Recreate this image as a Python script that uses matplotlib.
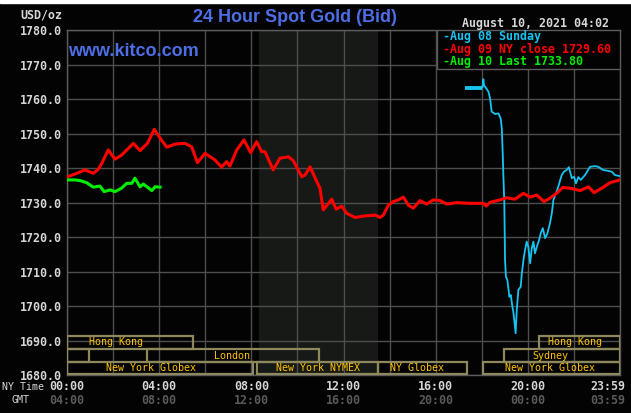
import matplotlib
matplotlib.use("Agg")
import matplotlib.pyplot as plt
from matplotlib.patches import Rectangle
import matplotlib.transforms as mtransforms

# Aug 09 (full NY day), hours since 00:00 NY time
red_h = [0.01, 0.35, 0.78, 1.14, 1.36, 1.51, 1.79, 2.08, 2.37, 2.88, 3.17, 3.49, 3.79,
         4.04, 4.33, 4.69, 5.12, 5.41, 5.66, 5.99, 6.42, 6.71, 6.93, 7.07, 7.37, 7.68,
         7.97, 8.23, 8.45, 8.59, 8.95, 9.24, 9.61, 9.82, 10.19, 10.33, 10.55, 10.84,
         10.98, 11.12, 11.49, 11.68, 11.92, 12.14, 12.5, 12.86, 13.37, 13.59, 13.73,
         13.95, 14.16, 14.38, 14.6, 14.81, 15.03, 15.32, 15.61, 15.9, 16.19, 16.48,
         16.91, 17.49, 18.07, 18.19, 18.36, 18.79, 19.08, 19.44, 19.81, 20.1, 20.39,
         20.7, 20.96, 21.28, 21.51, 21.83, 22.27, 22.63, 22.87, 23.21, 23.57, 24.0]
red_p = [1737.5, 1738.3, 1739.5, 1738.5, 1739.7, 1741.4, 1745.3, 1742.6, 1743.8, 1747.2,
         1745.1, 1747.2, 1751.3, 1748.7, 1746.1, 1747.0, 1747.2, 1746.2, 1741.6, 1744.3,
         1742.4, 1740.3, 1741.9, 1740.6, 1745.3, 1748.2, 1744.5, 1747.7, 1744.8, 1744.8,
         1739.5, 1742.9, 1743.3, 1742.2, 1737.5, 1738.0, 1740.4, 1736.1, 1734.2, 1727.9,
         1731.0, 1728.1, 1729.0, 1726.9, 1725.7, 1726.1, 1726.4, 1725.7, 1726.4, 1729.3,
         1730.3, 1730.8, 1731.6, 1729.3, 1728.4, 1730.6, 1729.6, 1730.8, 1730.6, 1729.6,
         1730.0, 1729.8, 1729.8, 1729.0, 1730.1, 1730.8, 1731.4, 1731.0, 1732.7, 1731.6,
         1732.2, 1730.3, 1731.3, 1732.9, 1734.4, 1734.2, 1733.5, 1734.6, 1732.9, 1734.2,
         1735.8, 1736.6]

# Aug 10 (today so far)
green_h = [0.01, 0.35, 0.56, 0.85, 1.14, 1.43, 1.61, 1.87, 2.08, 2.37, 2.59, 2.81, 2.95,
           3.17, 3.31, 3.49, 3.68, 3.82, 4.04]
green_p = [1736.6, 1736.6, 1736.4, 1735.8, 1734.5, 1734.8, 1733.2, 1733.7, 1733.2, 1734.2,
           1735.6, 1735.6, 1737.1, 1734.6, 1735.4, 1734.5, 1733.5, 1734.6, 1734.5]

# Aug 08 Sunday evening
blue_flat_h = [17.27, 18.03]
blue_flat_p = [1763.4, 1763.4]
blue_h = [18.03, 18.07, 18.1, 18.29, 18.36, 18.43, 18.58, 18.72, 18.82, 18.87, 18.91, 18.94,
          18.98, 19.01, 19.05, 19.11, 19.2, 19.26, 19.33, 19.37, 19.41, 19.47, 19.52,
          19.59, 19.69, 19.74, 19.81, 19.88, 19.95, 20.02, 20.1, 20.17, 20.24, 20.31,
          20.39, 20.49, 20.56, 20.65, 20.75, 20.85, 20.96, 21.04, 21.11, 21.22, 21.32,
          21.47, 21.57, 21.69, 21.78, 21.91, 22.01, 22.09, 22.19, 22.3, 22.48, 22.7,
          22.92, 23.06, 23.26, 23.64, 23.78, 24.0]
blue_p = [1763.4, 1765.8, 1764.1, 1762.2, 1760.3, 1756.4, 1755.7, 1755.9, 1754.5, 1751.6,
          1744.3, 1737.5, 1729.8, 1713.4, 1708.5, 1707.6, 1702.7, 1703.2, 1699.8, 1698.4,
          1696.0, 1692.1, 1698.9, 1704.7, 1705.6, 1709.5, 1713.4, 1716.3, 1718.7, 1717.2,
          1712.4, 1716.7, 1718.7, 1715.3, 1717.2, 1719.2, 1721.1, 1722.6, 1719.7, 1721.1,
          1724.0, 1726.9, 1730.8, 1732.7, 1734.6, 1738.0, 1739.0, 1739.5, 1740.3, 1737.1,
          1737.5, 1735.6, 1737.4, 1736.6, 1738.0, 1740.4, 1740.6, 1740.4, 1739.5, 1739.0,
          1738.0, 1737.7]

ny_ticks = [0, 4, 8, 12, 16, 20, 24]
ny_labels = ["00:00", "04:00", "08:00", "12:00", "16:00", "20:00", "23:59"]
gmt_labels = ["04:00", "08:00", "12:00", "16:00", "20:00", "00:00", "03:59"]

# market sessions: label, start, end, row (0 = bottom), label centre
sessions = [
    ("Hong Kong", 0.0, 5.48, 2, 2.13),
    ("Hong Kong", 20.48, 24.0, 2, 22.05),
    ("", 0.0, 0.97, 1, 0.5),
    ("London", 3.47, 10.95, 1, 7.16),
    ("Sydney", 18.97, 24.0, 1, 20.99),
    ("New York Globex", 0.0, 8.06, 0, 3.65),
    ("New York NYMEX", 8.26, 13.51, 0, 10.9),
    ("NY Globex", 13.51, 17.35, 0, 15.19),
    ("New York Globex", 18.04, 24.0, 0, 20.96),
]
row_bottoms = [1680.2, 1683.8, 1687.6]
row_height = 3.7

BG = "#030303"
GRID = "#4e4e4e"
BLUE = "#16c4f2"
RED = "#ff0000"
GREEN = "#00ee00"
GOLD = "#ffc400"
BOXC = "#8d895c"
LIGHT = "#d6d6d6"
MONO = "DejaVu Sans Mono"

W, H = 631, 413
fig = plt.figure(figsize=(W / 100, H / 100), dpi=100, facecolor=BG)
ax = fig.add_axes([67 / W, 38 / H, 553 / W, 344.7 / H])
ax.set_facecolor(BG)

ax.axvspan(8 + 20 / 60, 13.5, color="#161916", zorder=0, lw=0)

ax.plot(blue_flat_h, blue_flat_p, color=BLUE, lw=2.8, solid_capstyle="butt", zorder=3)
ax.plot(blue_h, blue_p, color=BLUE, lw=1.3, zorder=3)
ax.plot(red_h, red_p, color=RED, lw=2.2, zorder=4)
ax.plot(green_h, green_p, color=GREEN, lw=2.2, zorder=5)

for label, start, end, row, tx in sessions:
    y0 = row_bottoms[row]
    ax.add_patch(Rectangle((start, y0), end - start, row_height, fill=False,
                           edgecolor=BOXC, lw=1.6, zorder=6))
    if label:
        ax.text(tx, y0 + row_height / 2, label, color=GOLD, family=MONO, fontsize=7.2,
                ha="center", va="center", zorder=7)

ax.set_xlim(0, 24)
ax.set_ylim(1680, 1780)
ax.set_xticks(range(0, 25, 2))
ax.set_xticklabels([])
ax.set_yticks(range(1680, 1781, 10))
ax.set_yticklabels([f"{v:.1f}" for v in range(1680, 1781, 10)])
ax.tick_params(length=0, pad=3.6, labelcolor=LIGHT, labelsize=8.4)
for lab in ax.get_yticklabels():
    lab.set_family(MONO)
    lab.set_weight("bold")
ax.grid(True, color=GRID, lw=1)
ax.set_axisbelow(True)
for s in ax.spines.values():
    s.set_color("#5c5c5c")
    s.set_linewidth(1)

# time labels under the plot
trans = mtransforms.blended_transform_factory(ax.transData, ax.transAxes)
for h, ny, gmt in zip(ny_ticks, ny_labels, gmt_labels):
    ha = "center"
    x = h
    if h == 24:
        ha = "right"
        x = 24.22
    ax.text(x, -11 / 344.7, ny, transform=trans, ha=ha, va="center", color=LIGHT,
            family=MONO, weight="bold", fontsize=8.4)
    ax.text(x, -25 / 344.7, gmt, transform=trans, ha=ha, va="center", color="#5a5a5a",
            family=MONO, weight="bold", fontsize=8.4)

fig.text(2 / W, 1 - 387 / H, "NY Time", color=LIGHT, family=MONO, fontsize=7.2,
         ha="left", va="center")
fig.text(11 / W, 1 - 400 / H, "GMT", color=LIGHT, family=MONO, fontsize=7.2,
         ha="left", va="center")
fig.text(62 / W, 1 - 15 / H, "USD/oz", color=LIGHT, family=MONO, fontsize=8.4,
         weight="bold", ha="right", va="center")

fig.text(295 / W, 1 - 18 / H, "24 Hour Spot Gold (Bid)", color="#4d6ee6",
         family="Liberation Sans", fontsize=13, weight="bold", ha="center", va="center")
fig.text(68 / W, 1 - 51 / H, "www.kitco.com", color="#4d6ee6",
         family="Liberation Sans", fontsize=13, weight="bold", ha="left", va="center",
         zorder=10)
fig.text(609 / W, 1 - 23 / H, "August 10, 2021 04:02", color=LIGHT, family=MONO,
         fontsize=8.4, weight="bold", ha="right", va="center")

# legend box
ax.add_patch(Rectangle(((437 - 67) / 553, (375 - 69.3) / 344.7), (620 - 437) / 553,
                       39 / 344.7, transform=ax.transAxes, facecolor=BG,
                       edgecolor="#5c5c5c", lw=1, zorder=8))
legend_items = [("-Aug 08 Sunday", BLUE), ("-Aug 09 NY close 1729.60", RED),
                ("-Aug 10 Last 1733.80", GREEN)]
for i, (txt, c) in enumerate(legend_items):
    fig.text(443 / W, 1 - (36.7 + 12.6 * i) / H, txt, color=c, family=MONO,
             fontsize=8.4, weight="bold", ha="left", va="center", zorder=10)

fig.patches.append(Rectangle((0, 1 - 3 / H), 1, 3 / H, transform=fig.transFigure,
                             color="white", zorder=0))

fig.savefig("out.png", dpi=100, facecolor=BG)
